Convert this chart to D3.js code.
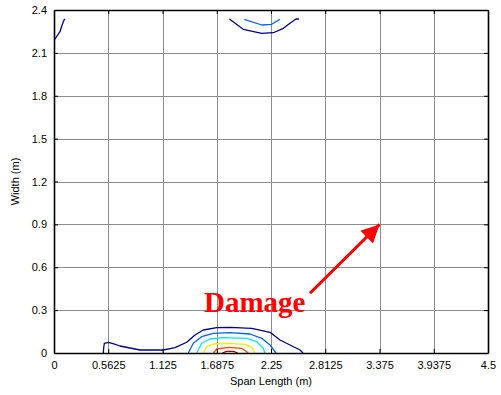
<!DOCTYPE html>
<html>
<head>
<meta charset="utf-8">
<script src="https://cdn.jsdelivr.net/npm/d3@7"></script>
<style>
  html, body { margin: 0; padding: 0; background: #fff; }
  svg { display: block; }
</style>
</head>
<body>
<svg id="chart" width="501" height="395"></svg>
<script>
// Axis ticks
const xTicks = [0, 0.5625, 1.125, 1.6875, 2.25, 2.8125, 3.375, 3.9375, 4.5];
const xTickLabels = ["0", "0.5625", "1.125", "1.6875", "2.25", "2.8125", "3.375", "3.9375", "4.5"];
const yTicks = [0, 0.3, 0.6, 0.9, 1.2, 1.5, 1.8, 2.1, 2.4];
const yTickLabels = ["0", "0.3", "0.6", "0.9", "1.2", "1.5", "1.8", "2.1", "2.4"];

// Contour lines, each as [span (m), width (m)] pairs
const level1Bottom = [[0.511, 0.0], [0.515, 0.035], [0.522, 0.068], [0.563, 0.075], [0.620, 0.064], [0.684, 0.049],
  [0.892, 0.021], [1.133, 0.021], [1.255, 0.037], [1.376, 0.075], [1.462, 0.126], [1.548, 0.161],
  [1.687, 0.177], [1.825, 0.180], [2.050, 0.173], [2.240, 0.145], [2.343, 0.091], [2.447, 0.056],
  [2.551, 0.021], [2.582, 0.0]];
const level2Bottom = [[1.393, 0.0], [1.444, 0.068], [1.531, 0.114], [1.652, 0.138], [1.825, 0.142],
  [2.032, 0.133], [2.154, 0.103], [2.240, 0.056], [2.302, 0.0]];
const level3Bottom = [[1.480, 0.0], [1.531, 0.068], [1.618, 0.098], [1.755, 0.107], [1.998, 0.103],
  [2.102, 0.079], [2.170, 0.033], [2.188, 0.0]];
const level4Bottom = [[1.548, 0.0], [1.583, 0.044], [1.652, 0.063], [1.807, 0.068], [1.980, 0.061],
  [2.050, 0.040], [2.084, 0.0]];
const level5Bottom = [[1.652, 0.0], [1.687, 0.028], [1.807, 0.040], [1.946, 0.033], [2.015, 0.0]];
const level6Bottom = [[1.745, 0.0], [1.790, 0.011], [1.860, 0.011], [1.905, 0.0]];
const level1Top = [[1.818, 2.337], [1.963, 2.265], [2.154, 2.237], [2.274, 2.241], [2.378, 2.272],
  [2.447, 2.307], [2.509, 2.337], [2.540, 2.337]];
const level2Top = [[1.973, 2.335], [2.154, 2.295], [2.257, 2.300], [2.343, 2.335]];
const level1Left = [[0.010, 2.197], [0.031, 2.218], [0.062, 2.248], [0.080, 2.288], [0.104, 2.330], [0.114, 2.337]];

// Line colours per contour level (jet colormap)
const levelColors = ["#00008f", "#0060ff", "#00e8ff", "#f0f000", "#ff4a00", "#a00000"];

const contourLines = [
  { pts: level1Bottom, lvl: 0 }, { pts: level2Bottom, lvl: 1 }, { pts: level3Bottom, lvl: 2 },
  { pts: level4Bottom, lvl: 3 }, { pts: level5Bottom, lvl: 4 }, { pts: level6Bottom, lvl: 5 },
  { pts: level1Top, lvl: 0 }, { pts: level2Top, lvl: 1 }, { pts: level1Left, lvl: 0 }
];

// Annotation: label and arrow, in data coordinates
const annotText = "Damage";
const annotTextPos = [1.555, 0.287];
const arrowFrom = [2.654, 0.418];
const arrowTo = [3.375, 0.9];

const svg = d3.select("#chart");
const margin = { left: 54, right: 13, top: 10, bottom: 42 };
const W = 501, H = 395;
const x = d3.scaleLinear().domain([0, 4.5]).range([margin.left, W - margin.right]);
const y = d3.scaleLinear().domain([0, 2.4]).range([H - margin.bottom, margin.top]);
const font = "'Liberation Sans', Arial, sans-serif";

// Grid
const grid = svg.append("g");
grid.selectAll("line.gx").data(xTicks.slice(1, -1)).join("line")
  .attr("x1", d => Math.round(x(d)) + 0.5).attr("x2", d => Math.round(x(d)) + 0.5)
  .attr("y1", y(0)).attr("y2", y(2.4))
  .attr("stroke", "#8c8c8c").attr("stroke-width", 1);
grid.selectAll("line.gy").data(yTicks.slice(1, -1)).join("line")
  .attr("y1", d => Math.round(y(d)) + 0.5).attr("y2", d => Math.round(y(d)) + 0.5)
  .attr("x1", x(0)).attr("x2", x(4.5))
  .attr("stroke", "#8c8c8c").attr("stroke-width", 1);

// Contours
const line = d3.line().x(d => x(d[0])).y(d => y(d[1]));
svg.append("g").selectAll("path").data(contourLines).join("path")
  .attr("d", d => line(d.pts))
  .attr("fill", "none")
  .attr("stroke", d => levelColors[d.lvl])
  .attr("stroke-width", 1.3)
  .attr("stroke-linejoin", "round");

// Axes (ticks inside, mirrored on top/right)
const tickLen = 4;
const xAxis = d3.axisBottom(x).tickValues(xTicks).tickFormat((d, i) => xTickLabels[i])
  .tickSizeInner(-tickLen).tickSizeOuter(0).tickPadding(8);
const yAxis = d3.axisLeft(y).tickValues(yTicks).tickFormat((d, i) => yTickLabels[i])
  .tickSizeInner(-tickLen).tickSizeOuter(0).tickPadding(7);
const xTop = d3.axisTop(x).tickValues(xTicks).tickFormat("").tickSizeInner(-tickLen).tickSizeOuter(0);
const yRight = d3.axisRight(y).tickValues(yTicks).tickFormat("").tickSizeInner(-tickLen).tickSizeOuter(0);

function styleAxis(g) {
  g.select(".domain").attr("stroke", "#000").attr("stroke-width", 1.6);
  g.selectAll(".tick line").attr("stroke", "#000");
  g.selectAll(".tick text").attr("fill", "#000").style("font-family", font).style("font-size", "11px");
}
svg.append("g").attr("transform", `translate(0,${y(0)})`).call(xAxis).call(styleAxis);
svg.append("g").attr("transform", `translate(${x(0)},0)`).call(yAxis).call(styleAxis);
svg.append("g").attr("transform", `translate(0,${y(2.4)})`).call(xTop).call(styleAxis);
svg.append("g").attr("transform", `translate(${x(4.5)},0)`).call(yRight).call(styleAxis);

// Axis titles
svg.append("text").attr("x", (x(0) + x(4.5)) / 2).attr("y", 385)
  .attr("text-anchor", "middle").style("font-family", font).style("font-size", "11px")
  .text("Span Length (m)");
svg.append("text").attr("transform", `translate(19,${(y(0) + y(2.4)) / 2}) rotate(-90)`)
  .attr("text-anchor", "middle").style("font-family", font).style("font-size", "11px")
  .text("Width (m)");

// Annotation
const defs = svg.append("defs");
defs.append("marker").attr("id", "arrowhead").attr("viewBox", "0 0 10 10")
  .attr("refX", 10).attr("refY", 5).attr("markerWidth", 8).attr("markerHeight", 6)
  .attr("markerUnits", "strokeWidth").attr("orient", "auto")
  .append("path").attr("d", "M0,0 L10,5 L0,10 Z").attr("fill", "#ff0000");
svg.append("line")
  .attr("x1", x(arrowFrom[0])).attr("y1", y(arrowFrom[1]))
  .attr("x2", x(arrowTo[0])).attr("y2", y(arrowTo[1]))
  .attr("stroke", "#ff0000").attr("stroke-width", 3)
  .attr("marker-end", "url(#arrowhead)");
svg.append("text").attr("x", x(annotTextPos[0])).attr("y", y(annotTextPos[1]))
  .style("font-family", "'Liberation Serif', 'Times New Roman', serif")
  .style("font-weight", "bold").style("font-size", "29px").attr("fill", "#ff0000")
  .text(annotText);
</script>
</body>
</html>
